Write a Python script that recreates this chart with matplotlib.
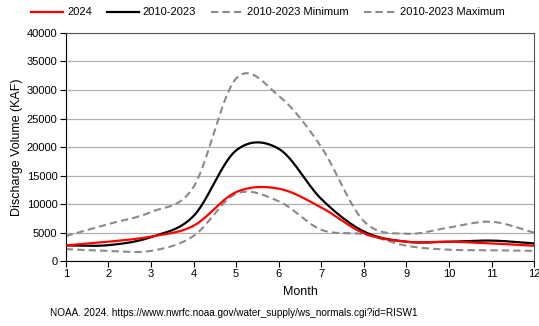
import numpy as np
import matplotlib
matplotlib.use('Agg')
from matplotlib import pyplot as plt

plt.rcParams['font.family'] = ['Liberation Sans', 'DejaVu Sans']

months = [1, 2, 3, 4, 5, 6, 7, 8, 9, 10, 11, 12]
y2024 = [2750, 3400, 4300, 6200, 12100, 12700, 9400, 4900, 3400, 3400, 3100, 2700]
avg = [2750, 2800, 4200, 7900, 19400, 19700, 10900, 5200, 3400, 3400, 3600, 3100]
vmin = [2100, 1800, 1800, 4400, 11800, 10500, 5500, 4700, 2700, 2000, 1900, 1800]
vmax = [4400, 6500, 8600, 13000, 32000, 29000, 20000, 7000, 4800, 5900, 6900, 5000]


# smoothed line like a spreadsheet "smooth line" (Catmull-Rom through the points)
def smooth(x, y, n=30):
    x = np.asarray(x, float); y = np.asarray(y, float)
    px = np.concatenate([[2 * x[0] - x[1]], x, [2 * x[-1] - x[-2]]])
    py = np.concatenate([[2 * y[0] - y[1]], y, [2 * y[-1] - y[-2]]])
    xs, ys = [], []
    t = np.linspace(0, 1, n, endpoint=False)
    for i in range(1, len(px) - 2):
        for p, out in ((px, xs), (py, ys)):
            p0, p1, p2, p3 = p[i - 1], p[i], p[i + 1], p[i + 2]
            out.append(0.5 * ((2 * p1) + (-p0 + p2) * t + (2 * p0 - 5 * p1 + 4 * p2 - p3) * t ** 2
                              + (-p0 + 3 * p1 - 3 * p2 + p3) * t ** 3))
    xs.append([x[-1]]); ys.append([y[-1]])
    return np.concatenate(xs), np.concatenate(ys)


fig = plt.figure(figsize=(5.39, 3.26), dpi=100)
ax = fig.add_axes([0.122, 0.199, 0.869, 0.70])

gray = '#8a8a8a'
ax.plot(*smooth(months, y2024), color='#ff0000', lw=1.6, label='2024', zorder=4)
ax.plot(*smooth(months, avg), color='black', lw=1.6, label='2010-2023', zorder=3)
ax.plot(*smooth(months, vmin), color=gray, lw=1.5, ls=(0, (3.5, 2)), label='2010-2023 Minimum', zorder=2)
ax.plot(*smooth(months, vmax), color=gray, lw=1.5, ls=(0, (3.5, 2)), label='2010-2023 Maximum', zorder=2)

ax.set_xlim(1, 12)
ax.set_ylim(0, 40000)
ax.set_xticks(months)
ax.set_yticks(range(0, 40001, 5000))
ax.yaxis.grid(True, color='#b0b0b0', lw=0.9)
ax.set_axisbelow(True)
ax.tick_params(direction='out', length=4, width=0.8, labelsize=8, pad=2)
for s in ['left', 'bottom']:
    ax.spines[s].set_color('black')
for s in ['top', 'right']:
    ax.spines[s].set_color('#555555')

ax.set_xlabel('Month', fontsize=9, labelpad=5)
ax.set_ylabel('Discharge Volume (KAF)', fontsize=9, labelpad=3)

fig.legend(loc='upper center', bbox_to_anchor=(0.497, 1.008), ncol=4, frameon=False,
           fontsize=8, handlelength=2.9, columnspacing=1.35, handletextpad=0.35)

fig.text(0.093, 0.04, 'NOAA. 2024. https://www.nwrfc.noaa.gov/water_supply/ws_normals.cgi?id=RISW1',
         fontsize=7.2, va='center')

fig.savefig('out.png', dpi=100)
